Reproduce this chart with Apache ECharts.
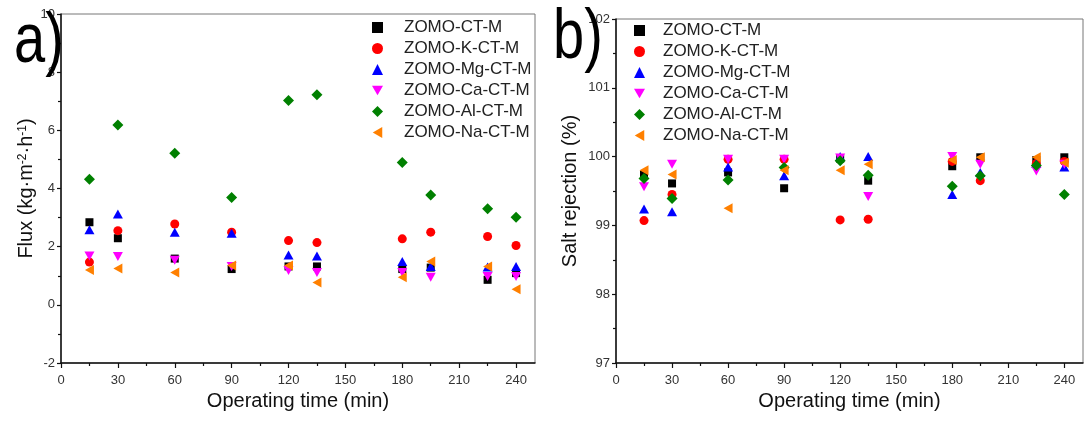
<!DOCTYPE html>
<html>
<head>
<meta charset="utf-8">
<script src="https://cdn.jsdelivr.net/npm/echarts@6/dist/echarts.min.js"></script>
<style>
html,body{margin:0;padding:0;background:#fff;}
#chart{width:1086px;height:423px;}
</style>
</head>
<body>
<div id="chart"></div>
<script>
// ---- data ----
const times = [15, 30, 60, 90, 120, 135, 180, 195, 225, 240];
const seriesNames = ['ZOMO-CT-M', 'ZOMO-K-CT-M', 'ZOMO-Mg-CT-M', 'ZOMO-Ca-CT-M', 'ZOMO-Al-CT-M', 'ZOMO-Na-CT-M'];

// panel a: flux (kg·m-2·h-1)
const fluxCT = [2.84, 2.29, 1.59, 1.23, 1.32, 1.32, 1.23, 1.28, 0.86, 1.09];
const fluxK  = [1.47, 2.55, 2.78, 2.50, 2.21, 2.14, 2.27, 2.50, 2.35, 2.04];
const fluxMg = [2.58, 3.12, 2.50, 2.46, 1.71, 1.68, 1.49, 1.32, 1.30, 1.32];
const fluxCa = [1.68, 1.66, 1.53, 1.32, 1.18, 1.11, 1.11, 0.95, 0.97, 0.97];
const fluxAl = [4.32, 6.18, 5.21, 3.69, 7.03, 7.22, 4.89, 3.78, 3.30, 3.01];
const fluxNa = [1.20, 1.25, 1.11, 1.35, 1.35, 0.77, 0.95, 1.49, 1.32, 0.54];

// panel b: salt rejection (%)
const rejCT = [99.74, 99.61, 99.77, 99.54, 99.97, 99.65, 99.86, 99.99, 99.95, 99.99];
const rejK  = [99.07, 99.45, 99.96, 99.96, 99.08, 99.09, 99.93, 99.65, 99.90, 99.93];
const rejMg = [99.24, 99.20, 99.85, 99.72, 100.0, 100.0, 99.45, 99.77, 99.90, 99.85];
const rejCa = [99.56, 99.89, 99.96, 99.96, 99.98, 99.42, 100.0, 99.89, 99.79, 99.89];
const rejAl = [99.68, 99.39, 99.66, 99.84, 99.94, 99.73, 99.57, 99.72, 99.87, 99.45];
const rejNa = [99.80, 99.74, 99.25, 99.80, 99.80, 99.89, 99.95, 99.99, 99.99, 99.91];

// axis ticks
const xMajorTicks = [0, 30, 60, 90, 120, 150, 180, 210, 240];
const xMinorTicks = [15, 45, 75, 105, 135, 165, 195, 225];

// ---- styling ----
const colors = ['#000000', '#ff0000', '#0000ff', '#ff00ff', '#008000', '#ff8000'];
const symbols = ['rect', 'circle', 'triangle', 'path://M0,0L10,0L5,8.66Z', 'diamond', 'path://M8.66,0L8.66,10L0,5Z'];
const sizes = [8, 9, [10, 9], [10, 9], 11, [9, 10]];
const FONT = 'Liberation Sans, Arial, sans-serif';

const fluxSets = [fluxCT, fluxK, fluxMg, fluxCa, fluxAl, fluxNa];
const rejSets = [rejCT, rejK, rejMg, rejCa, rejAl, rejNa];

function pairs(vals) { return times.map((t, i) => [t, vals[i]]); }

function mainX(gi) {
  return {
    gridIndex: gi, type: 'value', min: 0, max: 250, position: 'bottom',
    name: 'Operating time (min)', nameLocation: 'middle', nameGap: 21,
    nameTextStyle: { fontFamily: FONT, fontSize: 20, color: '#111' },
    axisLine: { onZero: false, lineStyle: { color: '#111', width: 1.5 } },
    axisTick: { customValues: xMajorTicks, length: 5, lineStyle: { color: '#111', width: 1.2 } },
    axisLabel: { customValues: xMajorTicks, fontFamily: FONT, fontSize: 13, color: '#333', margin: 11 },
    splitLine: { show: false }
  };
}
function minorX(gi) {
  return {
    gridIndex: gi, type: 'value', min: 0, max: 250, position: 'bottom', offset: 0,
    axisLine: { show: false, onZero: false },
    axisTick: { customValues: xMinorTicks, length: 3, lineStyle: { color: '#111', width: 1.2 } },
    axisLabel: { show: false },
    splitLine: { show: false }
  };
}
function yAx(gi, min, max, interval, name, nameGap) {
  return {
    gridIndex: gi, type: 'value', min: min, max: max, interval: interval,
    name: name, nameLocation: 'middle', nameGap: nameGap,
    nameTextStyle: {
      fontFamily: FONT, fontSize: 20, color: '#111',
      rich: { sup: { fontFamily: FONT, fontSize: 12, color: '#111', verticalAlign: 'top', padding: [0, 0, 6, 0] } }
    },
    axisLine: { onZero: false, lineStyle: { color: '#111', width: 1.5 } },
    axisTick: { length: 4, lineStyle: { color: '#111', width: 1.2 } },
    minorTick: { show: true, splitNumber: 2, length: 3, lineStyle: { color: '#111', width: 1.2 } },
    axisLabel: { fontFamily: FONT, fontSize: 13, color: '#333', margin: 6 },
    splitLine: { show: false }
  };
}

const series = [];
seriesNames.forEach((n, k) => {
  series.push({
    name: n, type: 'scatter', xAxisIndex: 0, yAxisIndex: 0,
    symbol: symbols[k], symbolSize: sizes[k],
    itemStyle: { color: colors[k], opacity: 1 },
    data: pairs(fluxSets[k])
  });
  series.push({
    name: n, type: 'scatter', xAxisIndex: 2, yAxisIndex: 1,
    symbol: symbols[k], symbolSize: sizes[k],
    itemStyle: { color: colors[k], opacity: 1 },
    data: pairs(rejSets[k])
  });
});

function legend(left, top, padLeft) {
  return {
    orient: 'vertical', left: left, top: top, itemGap: 4,
    itemWidth: 11, itemHeight: 11, padding: 0,
    data: seriesNames,
    selectedMode: false,
    textStyle: { fontFamily: FONT, fontSize: 17, color: '#222', padding: [0, 0, 0, padLeft] }
  };
}

const chart = echarts.init(document.getElementById('chart'), null, { renderer: 'canvas' });
chart.setOption({
  animation: false,
  backgroundColor: '#fff',
  grid: [
    { left: 61, right: 551, top: 14, bottom: 60, show: true, borderColor: '#777', borderWidth: 1, backgroundColor: 'transparent' },
    { left: 616, right: 3, top: 19, bottom: 60, show: true, borderColor: '#777', borderWidth: 1, backgroundColor: 'transparent' }
  ],
  xAxis: [mainX(0), minorX(0), mainX(1), minorX(1)],
  yAxis: [
    yAx(0, -2, 10, 2, 'Flux (kg·m{sup|-2}·h{sup|-1})', 16),
    yAx(1, 97, 102, 1, 'Salt rejection (%)', 36)
  ],
  legend: [legend(372, 19, 16), legend(634, 22, 13)],
  graphic: [
    { type: 'text', x: 14, y: 8, scaleY: 1.25, style: { text: 'a)', font: '56px ' + FONT, fill: '#000', textVerticalAlign: 'top' }, z: 100 },
    { type: 'text', x: 553, y: 4, scaleY: 1.25, style: { text: 'b)', font: '56px ' + FONT, fill: '#000', textVerticalAlign: 'top' }, z: 100 }
  ],
  series: series
});
</script>
</body>
</html>
